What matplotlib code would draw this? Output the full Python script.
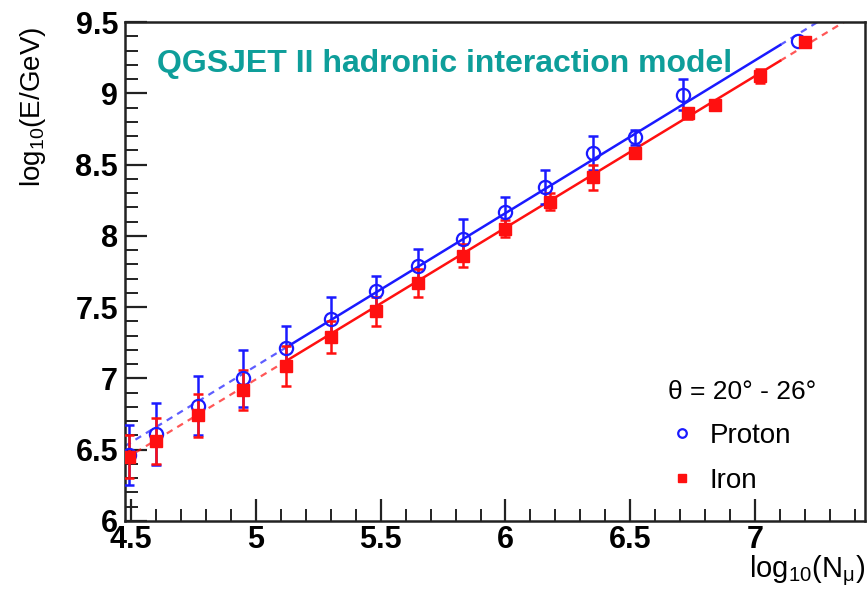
import matplotlib
matplotlib.use("Agg")
import matplotlib.pyplot as plt
import numpy as np
from matplotlib.ticker import MultipleLocator

plt.rcParams["font.family"] = ["Liberation Sans", "DejaVu Sans"]
plt.rcParams["mathtext.fontset"] = "custom"
plt.rcParams["mathtext.rm"] = "Liberation Sans"
plt.rcParams["mathtext.it"] = "Liberation Sans:italic"

BLUE = "#1a1aff"
RED = "#ff1010"
TEAL = "#0e9e9a"

# proton (open circles)
p_x = [4.49, 4.60, 4.77, 4.95, 5.12, 5.30, 5.48, 5.65, 5.83, 6.00, 6.16, 6.35, 6.52, 6.71, 7.17]
p_y = [6.46, 6.61, 6.81, 7.00, 7.21, 7.42, 7.61, 7.79, 7.98, 8.17, 8.34, 8.58, 8.69, 8.99, 9.37]
p_err = [0.21, 0.22, 0.21, 0.20, 0.16, 0.15, 0.11, 0.12, 0.14, 0.10, 0.12, 0.12, 0.05, 0.11, 0.0]

# iron (filled squares)
fe_x = [4.49, 4.60, 4.77, 4.95, 5.12, 5.30, 5.48, 5.65, 5.83, 6.00, 6.18, 6.35, 6.52, 6.73, 6.84, 7.02, 7.20]
fe_y = [6.45, 6.56, 6.74, 6.92, 7.09, 7.29, 7.47, 7.67, 7.86, 8.05, 8.24, 8.41, 8.58, 8.86, 8.92, 9.12, 9.36]
fe_err = [0.15, 0.16, 0.15, 0.14, 0.14, 0.11, 0.10, 0.10, 0.08, 0.06, 0.06, 0.09, 0.02, 0.04, 0.0, 0.05, 0.0]

# linear fits: value at x=4.48, slope
p_fit = (6.53, 1.072)
fe_fit = (6.44, 1.064)
fit_solid = (5.12, 7.10)
XLO, XHI = 4.476, 7.44

fig = plt.figure(figsize=(8.67, 5.98), dpi=100)
ax = fig.add_axes([0.1442, 0.1288, 0.8535, 0.8344])


def fit_line(par, color):
    a, b = par
    for lo, hi, solid in ((XLO, fit_solid[0], False), (fit_solid[0], fit_solid[1], True),
                          (fit_solid[1], XHI, False)):
        xs = np.array([lo, hi])
        if solid:
            ax.plot(xs, a + b * (xs - 4.48), color=color, lw=1.8, zorder=2)
        else:
            ax.plot(xs, a + b * (xs - 4.48), color=color, lw=1.6, ls=(0, (3, 2.5)),
                    alpha=0.7, zorder=2)


fit_line(p_fit, BLUE)
fit_line(fe_fit, RED)


def errs(xv, yv, ev, color):
    m = np.array(ev) > 0
    ax.errorbar(np.array(xv)[m], np.array(yv)[m], yerr=np.array(ev)[m], fmt="none",
                ecolor=color, elinewidth=1.8, capsize=3.5, capthick=1.8, zorder=3)


errs(p_x, p_y, p_err, BLUE)
errs(fe_x, fe_y, fe_err, RED)
hp, = ax.plot(p_x, p_y, "o", ms=9.5, mfc="none", mec=BLUE, mew=1.6, ls="none", zorder=4, label="Proton")
hf, = ax.plot(fe_x, fe_y, "s", ms=8, color=RED, ls="none", zorder=5, label="Iron")

ax.set_xlim(XLO, XHI)
ax.set_ylim(6, 9.5)
ax.xaxis.set_minor_locator(MultipleLocator(0.1))
ax.yaxis.set_minor_locator(MultipleLocator(0.1))
ax.set_xticks([4.5, 5, 5.5, 6, 6.5, 7])
ax.set_xticklabels(["4.5", "5", "5.5", "6", "6.5", "7"])
ax.set_yticks([6, 6.5, 7, 7.5, 8, 8.5, 9, 9.5])
ax.set_yticklabels(["6", "6.5", "7", "7.5", "8", "8.5", "9", "9.5"])
ax.tick_params(which="major", direction="in", length=16, width=1.6, labelsize=22, color="#222222")
ax.tick_params(axis="y", which="major", pad=5)
ax.tick_params(axis="x", which="major", pad=3)
ax.tick_params(which="minor", direction="in", length=9, width=1.4, color="#222222")
for lab in ax.get_xticklabels() + ax.get_yticklabels():
    lab.set_fontweight("bold")
for sp in ax.spines.values():
    sp.set_linewidth(1.8)
    sp.set_color("#222222")

ax.set_ylabel("log$_{10}$(E/GeV)", fontsize=20)
ax.yaxis.set_label_coords(-0.104, 0.83)
ax.set_xlabel("log$_{10}$(N$_{\\mathrm{\\mu}}$)", fontsize=21, loc="right")
ax.xaxis.set_label_coords(1.0, -0.065)

ax.text(0.043, 0.915, "QGSJET II hadronic interaction model", transform=ax.transAxes,
        fontsize=23, fontweight="bold", color=TEAL, va="center", ha="left")

leg = ax.legend(handles=[hp, hf], title="θ = 20° - 26°", loc="upper left",
                bbox_to_anchor=(0.715, 0.31), frameon=False, fontsize=20,
                title_fontsize=19, markerscale=0.65, handlelength=1.0,
                handletextpad=0.5, labelspacing=0.68, borderpad=0)
leg._legend_box.align = "left"

fig.savefig("out.png", dpi=100, facecolor="white")
